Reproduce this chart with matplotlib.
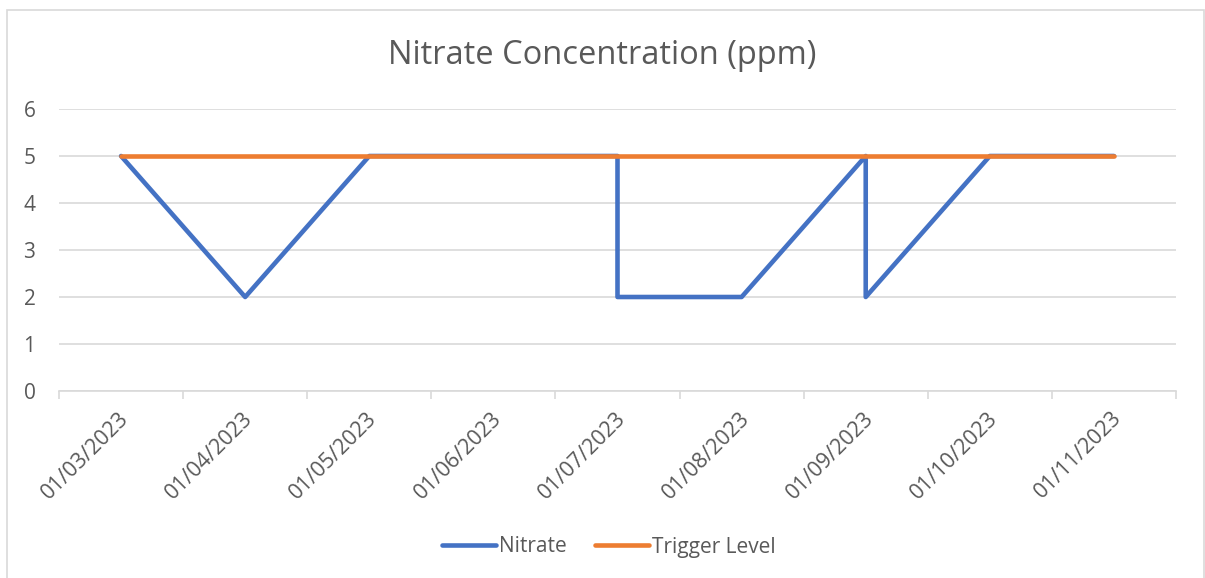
#!/usr/bin/env python3
"""Nitrate concentration vs trigger level, Excel-style line chart."""
import numpy as np
import pandas as pd
import matplotlib
matplotlib.use('Agg')
import matplotlib.pyplot as plt
from matplotlib.patches import Rectangle

# sample dates (two readings share a month in Jul and Sep)
nitrate_dates = ['01/03/2023', '01/04/2023', '01/05/2023', '01/06/2023', '01/07/2023',
                 '15/07/2023', '01/08/2023', '01/09/2023', '15/09/2023', '01/10/2023',
                 '01/11/2023']
nitrate_ppm = [5, 2, 5, 5, 5, 2, 2, 5, 2, 5, 5]
trigger_ppm = [5, 5, 5, 5, 5, 5, 5, 5, 5, 5, 5]
month_labels = ['01/03/2023', '01/04/2023', '01/05/2023', '01/06/2023', '01/07/2023',
                '01/08/2023', '01/09/2023', '01/10/2023', '01/11/2023']
y_ticks = [0, 1, 2, 3, 4, 5, 6]

W, H = 1205, 578
BLUE = '#4472C4'
ORANGE = '#ED7D31'
GRID = '#D9D9D9'
TXT = '#595959'

plt.rcParams['font.family'] = ['Open Sans', 'DejaVu Sans']

# Excel date axis with monthly base unit -> one slot per month
d = pd.to_datetime(nitrate_dates, format='%d/%m/%Y')
x = (d.year - d[0].year) * 12 + (d.month - d[0].month)
x = np.asarray(x, dtype=float)

fig = plt.figure(figsize=(W / 100, H / 100), dpi=100)
fig.patches.append(Rectangle((7 / W, -0.01), 1197 / W, 1 - 10 / H + 0.01,
                             transform=fig.transFigure, fill=False,
                             edgecolor=GRID, linewidth=1.2))

ax = fig.add_axes([59 / W, (H - 391) / H, (1176 - 59) / W, (391 - 109) / H])
ax.plot(x, nitrate_ppm, color=BLUE, lw=3.3, solid_joinstyle='round',
        solid_capstyle='round', label='Nitrate', zorder=3)
ax.plot(x, trigger_ppm, color=ORANGE, lw=3.3, solid_capstyle='round',
        label='Trigger Level', zorder=4)

ax.set_xlim(-0.5, len(month_labels) - 0.5)
ax.set_ylim(min(y_ticks), max(y_ticks))
ax.set_yticks(y_ticks)
ax.yaxis.grid(True, color=GRID, lw=1.2)
ax.set_axisbelow(True)
for s in ('top', 'right', 'left'):
    ax.spines[s].set_visible(False)
ax.spines['bottom'].set_color(GRID)
ax.spines['bottom'].set_linewidth(1.2)
ax.spines['bottom'].set_zorder(1)

# tick marks on month boundaries, labels at month centres
ax.set_xticks(np.arange(len(month_labels) + 1) - 0.5)
ax.set_xticklabels([])
ax.tick_params(axis='x', length=6, width=1.2, color=GRID)
ax.tick_params(axis='y', length=0, pad=17, labelsize=15, labelcolor=TXT)
for i, lab in enumerate(month_labels):
    ax.annotate(lab, xy=(i, 0), xycoords=('data', 'axes fraction'),
                xytext=(-2, -12), textcoords='offset points',
                rotation=45, ha='right', va='top', rotation_mode='anchor',
                fontsize=15.5, color=TXT)

fig.text(0.5, (H - 55) / H, 'Nitrate Concentration (ppm)', ha='center',
         va='center', fontsize=23.5, color=TXT)

leg = fig.legend(loc='center', bbox_to_anchor=((609 / W), (H - 547) / H), ncol=2,
                 frameon=False, fontsize=15, handlelength=2.6,
                 handletextpad=0.15, columnspacing=1.35)
for t in leg.get_texts():
    t.set_color(TXT)

fig.savefig('out.png', dpi=100)
